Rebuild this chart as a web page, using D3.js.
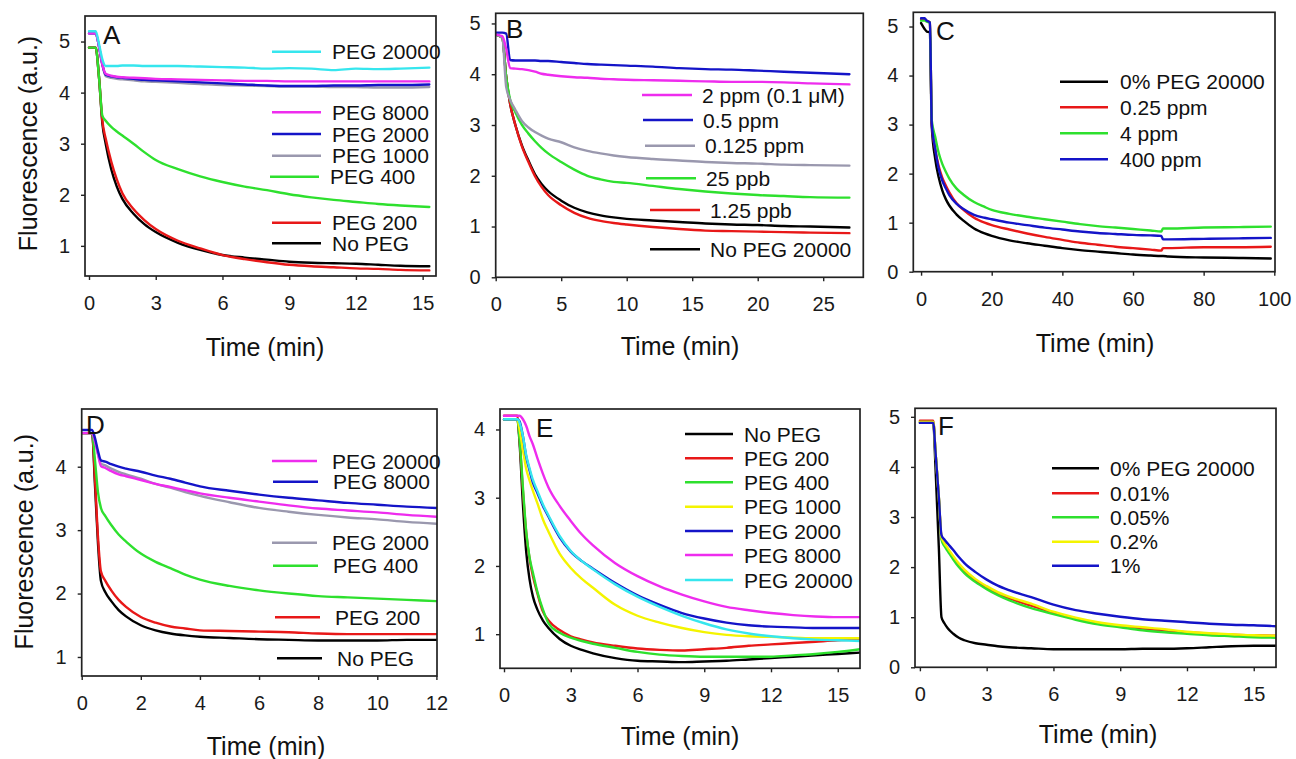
<!DOCTYPE html>
<html><head><meta charset="utf-8">
<script src="https://cdn.jsdelivr.net/npm/d3@7"></script>
<style>
body{margin:0;background:#fff}
svg{display:block}
text{font-family:"Liberation Sans",Arial,Helvetica,sans-serif}
</style>
</head><body>
<svg id="c" width="1296" height="759"></svg>
<script>
// ---------------- DATA ----------------
// Panel A (time, min)
const tA = [0, 0.3, 0.45, 0.6, 0.75, 1, 1.25, 1.5, 2, 2.5, 3, 4, 5, 6, 7, 8, 9, 10, 11, 12, 13, 14, 15.3];
const aPEG20000 = [5.2, 5.2, 4.95, 4.65, 4.52, 4.52, 4.52, 4.53, 4.53, 4.52, 4.52, 4.52, 4.51, 4.5, 4.49, 4.47, 4.48, 4.47, 4.44, 4.47, 4.46, 4.47, 4.49];
const aPEG8000  = [5.16, 5.16, 4.9, 4.55, 4.37, 4.33, 4.31, 4.3, 4.29, 4.28, 4.27, 4.26, 4.25, 4.24, 4.23, 4.23, 4.22, 4.22, 4.22, 4.22, 4.22, 4.22, 4.22];
const aPEG2000  = [5.16, 5.16, 4.9, 4.55, 4.35, 4.32, 4.3, 4.29, 4.27, 4.25, 4.24, 4.22, 4.2, 4.18, 4.16, 4.14, 4.13, 4.13, 4.14, 4.14, 4.15, 4.15, 4.16];
const aPEG1000  = [5.16, 5.16, 4.9, 4.55, 4.32, 4.29, 4.27, 4.26, 4.24, 4.22, 4.21, 4.19, 4.17, 4.15, 4.14, 4.13, 4.12, 4.12, 4.11, 4.11, 4.1, 4.1, 4.11];
const aPEG400   = [4.88, 4.88, 4.3, 3.55, 3.45, 3.33, 3.24, 3.16, 3.0, 2.83, 2.68, 2.5, 2.36, 2.25, 2.16, 2.09, 2.01, 1.95, 1.9, 1.86, 1.82, 1.79, 1.76];
const aPEG200   = [4.88, 4.88, 4.3, 3.45, 3.1, 2.65, 2.3, 2.03, 1.72, 1.5, 1.33, 1.1, 0.95, 0.82, 0.74, 0.68, 0.63, 0.6, 0.58, 0.56, 0.55, 0.53, 0.52];
const aNoPEG    = [4.88, 4.88, 4.3, 3.4, 3.0, 2.5, 2.16, 1.92, 1.63, 1.42, 1.27, 1.06, 0.92, 0.82, 0.77, 0.73, 0.69, 0.67, 0.66, 0.65, 0.63, 0.61, 0.6];

// Panel B
const tB = [0, 0.5, 0.8, 1.1, 1.5, 2, 2.5, 3, 3.5, 4, 5, 6, 7, 8, 9, 10, 12, 14, 16, 18, 20, 22, 24, 27];
const b2ppm    = [4.78, 4.75, 4.5, 4.12, 4.11, 4.1, 4.08, 4.05, 4.01, 3.99, 3.96, 3.94, 3.93, 3.91, 3.9, 3.89, 3.88, 3.87, 3.86, 3.85, 3.85, 3.84, 3.82, 3.8];
const b05ppm   = [4.82, 4.82, 4.8, 4.28, 4.27, 4.27, 4.27, 4.27, 4.26, 4.26, 4.24, 4.22, 4.2, 4.19, 4.18, 4.17, 4.15, 4.12, 4.1, 4.09, 4.07, 4.05, 4.03, 4.0];
const b0125ppm = [4.78, 4.72, 3.75, 3.5, 3.3, 3.08, 2.95, 2.86, 2.79, 2.73, 2.66, 2.56, 2.49, 2.44, 2.4, 2.37, 2.33, 2.3, 2.27, 2.25, 2.24, 2.22, 2.21, 2.2];
const b25ppb   = [4.78, 4.72, 3.95, 3.5, 3.25, 3.0, 2.83, 2.68, 2.55, 2.44, 2.27, 2.12, 2.0, 1.93, 1.88, 1.86, 1.8, 1.74, 1.69, 1.65, 1.62, 1.6, 1.58, 1.57];
const b125ppb  = [4.78, 4.72, 3.95, 3.42, 3.0, 2.58, 2.27, 1.99, 1.78, 1.62, 1.42, 1.27, 1.17, 1.11, 1.07, 1.04, 0.99, 0.95, 0.92, 0.91, 0.9, 0.89, 0.88, 0.87];
const bNoPEG   = [4.78, 4.72, 3.95, 3.42, 3.0, 2.6, 2.3, 2.03, 1.84, 1.7, 1.51, 1.37, 1.28, 1.22, 1.18, 1.15, 1.12, 1.09, 1.06, 1.04, 1.03, 1.01, 1.0, 0.98];

// Panel C
const tC = [0, 1, 1.6, 2.5, 2.75, 3.0, 4, 5, 6, 7, 8, 10, 12, 15, 18, 20, 25, 30, 35, 40, 45, 50, 55, 60, 65, 68, 68.5, 70, 80, 90, 99];
const cNoPEG  = [5.07, 4.95, 4.9, 4.88, 4.0, 3.0, 2.3, 1.92, 1.66, 1.48, 1.35, 1.17, 1.04, 0.88, 0.78, 0.73, 0.64, 0.58, 0.53, 0.48, 0.44, 0.41, 0.38, 0.35, 0.33, 0.32, 0.32, 0.31, 0.29, 0.28, 0.27];
const c025ppm = [5.15, 5.15, 5.12, 5.08, 4.2, 3.05, 2.5, 2.15, 1.92, 1.76, 1.62, 1.4, 1.26, 1.1, 1.0, 0.95, 0.86, 0.78, 0.71, 0.65, 0.59, 0.55, 0.51, 0.48, 0.45, 0.43, 0.48, 0.48, 0.5, 0.5, 0.51];
const c4ppm   = [5.12, 5.12, 5.1, 5.08, 4.2, 3.1, 2.75, 2.42, 2.2, 2.04, 1.9, 1.7, 1.57, 1.42, 1.32, 1.26, 1.18, 1.12, 1.07, 1.02, 0.97, 0.93, 0.9, 0.87, 0.84, 0.82, 0.88, 0.88, 0.9, 0.91, 0.92];
const c400ppm = [5.17, 5.17, 5.12, 5.08, 4.2, 3.05, 2.5, 2.1, 1.86, 1.7, 1.56, 1.39, 1.28, 1.16, 1.1, 1.07, 1.0, 0.95, 0.9, 0.86, 0.82, 0.79, 0.77, 0.75, 0.74, 0.73, 0.66, 0.66, 0.67, 0.68, 0.69];

// Panel D
const tD = [0, 0.35, 0.45, 0.55, 0.65, 0.8, 1, 1.25, 1.5, 2, 2.5, 3, 3.5, 4, 5, 6, 7, 8, 9, 10, 11, 12];
const dPEG20000 = [4.53, 4.53, 4.4, 4.2, 4.01, 3.98, 3.93, 3.88, 3.85, 3.79, 3.73, 3.68, 3.63, 3.58, 3.51, 3.45, 3.39, 3.34, 3.31, 3.28, 3.24, 3.21];
const dPEG8000  = [4.58, 4.58, 4.45, 4.25, 4.1, 4.08, 4.04, 4.0, 3.97, 3.92, 3.86, 3.81, 3.75, 3.69, 3.62, 3.56, 3.51, 3.47, 3.43, 3.4, 3.37, 3.35];
const dPEG2000  = [4.53, 4.53, 4.4, 4.2, 4.05, 4.02, 3.97, 3.92, 3.88, 3.81, 3.73, 3.67, 3.6, 3.54, 3.44, 3.35, 3.29, 3.24, 3.2, 3.17, 3.13, 3.1];
const dPEG400   = [4.53, 4.53, 4.1, 3.6, 3.35, 3.22, 3.08, 2.93, 2.82, 2.63, 2.5, 2.4, 2.3, 2.22, 2.12, 2.05, 2.0, 1.96, 1.94, 1.92, 1.9, 1.88];
const dPEG200   = [4.53, 4.53, 3.8, 2.9, 2.35, 2.2, 2.05, 1.9, 1.79, 1.63, 1.54, 1.48, 1.45, 1.42, 1.41, 1.4, 1.39, 1.37, 1.36, 1.36, 1.36, 1.36];
const dNoPEG    = [4.53, 4.53, 3.7, 2.8, 2.2, 2.02, 1.88, 1.74, 1.64, 1.5, 1.42, 1.37, 1.34, 1.32, 1.3, 1.28, 1.27, 1.26, 1.26, 1.26, 1.27, 1.27];

// Panel E
const tE = [0, 0.6, 0.7, 0.85, 1, 1.15, 1.3, 1.5, 1.75, 2, 2.5, 3, 3.5, 4, 5, 6, 7, 8, 9, 10, 11, 12, 13, 14, 15, 16];
const eNoPEG    = [4.15, 4.15, 3.8, 2.9, 2.2, 1.8, 1.55, 1.36, 1.2, 1.09, 0.93, 0.83, 0.77, 0.72, 0.65, 0.61, 0.6, 0.59, 0.6, 0.61, 0.63, 0.65, 0.67, 0.69, 0.71, 0.73];
const ePEG200   = [4.2, 4.2, 3.85, 3.1, 2.48, 2.1, 1.85, 1.6, 1.33, 1.2, 1.06, 0.97, 0.92, 0.88, 0.83, 0.79, 0.77, 0.76, 0.78, 0.8, 0.83, 0.85, 0.87, 0.89, 0.91, 0.92];
const ePEG400   = [4.15, 4.15, 3.85, 3.15, 2.5, 2.12, 1.9, 1.62, 1.36, 1.16, 1.02, 0.95, 0.9, 0.86, 0.8, 0.74, 0.7, 0.68, 0.67, 0.67, 0.67, 0.67, 0.69, 0.71, 0.74, 0.78];
const ePEG1000  = [4.15, 4.15, 4.0, 3.7, 3.42, 3.25, 3.1, 2.92, 2.68, 2.5, 2.18, 1.97, 1.81, 1.68, 1.43, 1.27, 1.17, 1.09, 1.03, 0.99, 0.97, 0.96, 0.95, 0.94, 0.94, 0.94];
const ePEG2000  = [4.15, 4.15, 4.12, 3.9, 3.6, 3.4, 3.22, 3.07, 2.88, 2.72, 2.42, 2.21, 2.07, 1.96, 1.75, 1.57, 1.43, 1.31, 1.23, 1.17, 1.13, 1.11, 1.1, 1.09, 1.09, 1.09];
const ePEG8000  = [4.2, 4.2, 4.2, 4.15, 4.05, 3.9, 3.78, 3.58, 3.35, 3.15, 2.88, 2.66, 2.46, 2.3, 2.04, 1.85, 1.7, 1.58, 1.48, 1.4, 1.35, 1.31, 1.28, 1.26, 1.25, 1.25];
const ePEG20000 = [4.15, 4.15, 4.1, 3.9, 3.62, 3.43, 3.26, 3.1, 2.9, 2.74, 2.44, 2.22, 2.07, 1.95, 1.73, 1.55, 1.4, 1.27, 1.16, 1.07, 1.01, 0.97, 0.94, 0.92, 0.91, 0.9];

// Panel F
const tF = [0, 0.6, 0.7, 0.85, 0.97, 1.1, 1.25, 1.5, 1.75, 2, 2.5, 3, 3.5, 4, 5, 6, 7, 8, 9, 10, 11, 12, 13, 14, 15, 16];
const fNoPEG = [4.88, 4.88, 4.0, 2.4, 1.0, 0.88, 0.78, 0.67, 0.59, 0.54, 0.48, 0.45, 0.42, 0.4, 0.38, 0.36, 0.36, 0.36, 0.36, 0.37, 0.37, 0.38, 0.4, 0.42, 0.43, 0.43];
const f001   = [4.92, 4.92, 4.3, 3.4, 2.58, 2.45, 2.35, 2.19, 2.04, 1.92, 1.73, 1.59, 1.47, 1.38, 1.23, 1.09, 0.97, 0.88, 0.82, 0.77, 0.73, 0.7, 0.67, 0.65, 0.64, 0.63];
const f005   = [4.9, 4.9, 4.3, 3.4, 2.55, 2.42, 2.32, 2.15, 2.0, 1.88, 1.7, 1.56, 1.44, 1.34, 1.18, 1.06, 0.95, 0.86, 0.8, 0.74, 0.7, 0.67, 0.64, 0.62, 0.6, 0.59];
const f02    = [4.9, 4.9, 4.3, 3.4, 2.6, 2.48, 2.38, 2.22, 2.07, 1.95, 1.76, 1.62, 1.5, 1.41, 1.27, 1.11, 0.99, 0.9, 0.84, 0.8, 0.76, 0.71, 0.68, 0.66, 0.64, 0.63];
const f1     = [4.88, 4.88, 4.3, 3.4, 2.64, 2.55, 2.47, 2.34, 2.2, 2.08, 1.9, 1.75, 1.63, 1.54, 1.4, 1.25, 1.14, 1.07, 1.01, 0.96, 0.93, 0.9, 0.87, 0.85, 0.84, 0.82];

// Tick values
const ticksXA = [0, 3, 6, 9, 12, 15], ticksYA = [1, 2, 3, 4, 5];
const ticksXB = [0, 5, 10, 15, 20, 25], ticksYB = [0, 1, 2, 3, 4, 5];
const ticksXC = [0, 20, 40, 60, 80, 100], ticksYC = [0, 1, 2, 3, 4, 5];
const ticksXD = [0, 2, 4, 6, 8, 10, 12], ticksYD = [1, 2, 3, 4];
const ticksXE = [0, 3, 6, 9, 12, 15], ticksYE = [1, 2, 3, 4];
const ticksXF = [0, 3, 6, 9, 12, 15], ticksYF = [0, 1, 2, 3, 4, 5];

// Legend labels (top to bottom)
const legA = ['PEG 20000', 'PEG 8000', 'PEG 2000', 'PEG 1000', 'PEG 400', 'PEG 200', 'No PEG'];
const legB = ['2 ppm (0.1 μM)', '0.5 ppm', '0.125 ppm', '25 ppb', '1.25 ppb', 'No PEG 20000'];
const legC = ['0% PEG 20000', '0.25 ppm', '4 ppm', '400 ppm'];
const legD = ['PEG 20000', 'PEG 8000', 'PEG 2000', 'PEG 400', 'PEG 200', 'No PEG'];
const legE = ['No PEG', 'PEG 200', 'PEG 400', 'PEG 1000', 'PEG 2000', 'PEG 8000', 'PEG 20000'];
const legF = ['0% PEG 20000', '0.01%', '0.05%', '0.2%', '1%'];

// ---------------- STYLE / LAYOUT ----------------
const COL = {black:'#000000', red:'#e81818', green:'#2ee02e', gray:'#9a98ae', blue:'#1414c8',
             magenta:'#ee2cee', cyan:'#36e6ee', yellow:'#f4f400'};

const panels = [
  {key:'A', t:tA, box:[85,16,436,276], xDom:[-0.18,15.6], yDom:[0.41,5.5], xt:ticksXA, yt:ticksYA,
   series:[[aNoPEG,'black'],[aPEG200,'red'],[aPEG400,'green'],[aPEG1000,'gray'],[aPEG2000,'blue'],[aPEG8000,'magenta'],[aPEG20000,'cyan']],
   leg:legA, legCol:['cyan','magenta','blue','gray','green','red','black'],
   legY:[51.7,112.3,134,155.7,176.7,222.7,243.3], legDx:[0,0,0,0,-2,0,0], lx1:272, lx2:321, tx:332,
   letter:[103,43.5], xTitle:[265,356], yTitle:[37,143.5]},
  {key:'B', t:tB, box:[495.7,13.3,863.3,277.3], xDom:[0,28.06], yDom:[0,5.2], xt:ticksXB, yt:ticksYB,
   series:[[bNoPEG,'black'],[b125ppb,'red'],[b25ppb,'green'],[b0125ppm,'gray'],[b05ppm,'blue'],[b2ppm,'magenta']],
   leg:legB, legCol:['magenta','blue','gray','green','red','black'],
   legY:[95,120,145.7,178.3,210,249.3], legDx:[0,1,3,4,8,8], lx1:642, lx2:692, tx:702,
   letter:[506,37.5], xTitle:[680,355]},
  {key:'C', t:tC, box:[913.3,12.3,1275,271.7], xDom:[-2.2,100.2], yDom:[0,5.29], xt:ticksXC, yt:ticksYC,
   series:[[cNoPEG,'black'],[c025ppm,'red'],[c4ppm,'green'],[c400ppm,'blue']],
   leg:legC, legCol:['black','red','green','blue'],
   legY:[81.7,107.3,133.3,159.3], legDx:[0,0,0,0], lx1:1060, lx2:1108, tx:1120,
   letter:[936,40], xTitle:[1095,351.7]},
  {key:'D', t:tD, box:[81.7,409,437,676], xDom:[0,12.02], yDom:[0.7,4.91], xt:ticksXD, yt:ticksYD,
   series:[[dNoPEG,'black'],[dPEG200,'red'],[dPEG400,'green'],[dPEG2000,'gray'],[dPEG20000,'magenta'],[dPEG8000,'blue']],
   leg:legD, legCol:['magenta','blue','gray','green','red','black'],
   legY:[461,481.7,542.7,565.7,617.3,658.3], legDx:[0,1,0,1,3,5], lx1:272, lx2:317, tx:332,
   letter:[86,433.5], xTitle:[266,755], yTitle:[33,541.7]},
  {key:'E', t:tE, box:[500,409,860,668.3], xDom:[-0.18,16.0], yDom:[0.5,4.3], xt:ticksXE, yt:ticksYE,
   series:[[eNoPEG,'black'],[ePEG200,'red'],[ePEG400,'green'],[ePEG1000,'yellow'],[ePEG2000,'blue'],[ePEG8000,'magenta'],[ePEG20000,'cyan']],
   leg:legE, legCol:['black','red','green','yellow','blue','magenta','cyan'],
   legY:[434,458.3,482.3,506.7,531,555,580], legDx:[0,0,0,0,0,0,0], lx1:685, lx2:733, tx:744,
   letter:[536,436.5], xTitle:[680,745]},
  {key:'F', t:tF, box:[915,408.3,1276,667.3], xDom:[-0.22,16.0], yDom:[0,5.17], xt:ticksXF, yt:ticksYF,
   series:[[fNoPEG,'black'],[f001,'red'],[f005,'green'],[f02,'yellow'],[f1,'blue']],
   leg:legF, legCol:['black','red','green','yellow','blue'],
   legY:[468.3,493.3,517.3,541.7,565.7], legDx:[0,0,0,0,0], lx1:1052, lx2:1099, tx:1110,
   letter:[938,435], xTitle:[1098,743]}
];

const FONT = '"Liberation Sans", Arial, Helvetica, sans-serif';
const svg = d3.select('#c');
const defs = svg.append('defs');

panels.forEach(p => {
  const [l, t, r, b] = p.box;
  const x = d3.scaleLinear().domain(p.xDom).range([l, r]);
  const y = d3.scaleLinear().domain(p.yDom).range([b, t]);
  const g = svg.append('g').attr('class', 'panel-' + p.key);

  defs.append('clipPath').attr('id', 'clip' + p.key)
    .append('rect').attr('x', l).attr('y', t).attr('width', r - l).attr('height', b - t);

  const line = d3.line()
    .x((d, i) => x(p.t[i]))
    .y(d => y(d))
    .curve(d3.curveMonotoneX);

  g.append('g').attr('clip-path', `url(#clip${p.key})`)
    .selectAll('path').data(p.series).join('path')
    .attr('d', s => line(s[0]))
    .attr('fill', 'none')
    .attr('stroke', s => COL[s[1]])
    .attr('stroke-width', 2.4)
    .attr('stroke-linejoin', 'round')
    .attr('stroke-linecap', 'round');

  // axes
  const xa = g.append('g').attr('transform', `translate(0,${b})`)
    .call(d3.axisBottom(x).tickValues(p.xt).tickSize(4).tickPadding(16).tickFormat(d3.format('d')));
  const ya = g.append('g').attr('transform', `translate(${l},0)`)
    .call(d3.axisLeft(y).tickValues(p.yt).tickSize(4).tickPadding(11).tickFormat(d3.format('d')));
  [xa, ya].forEach(a => {
    a.attr('font-family', FONT).attr('font-size', 20);
    a.select('.domain').remove();
    a.selectAll('.tick line').attr('stroke', '#222').attr('stroke-width', 1.4);
    a.selectAll('.tick text').attr('fill', '#1a1a1a');
  });

  // frame
  g.append('rect').attr('x', l).attr('y', t).attr('width', r - l).attr('height', b - t)
    .attr('fill', 'none').attr('stroke', '#222').attr('stroke-width', 1.7);

  // legend
  const lg = g.append('g');
  p.leg.forEach((name, i) => {
    const yy = p.legY[i], dx = p.legDx[i];
    lg.append('line').attr('x1', p.lx1 + dx).attr('x2', p.lx2 + dx).attr('y1', yy).attr('y2', yy)
      .attr('stroke', COL[p.legCol[i]]).attr('stroke-width', 2.6);
    lg.append('text').attr('x', p.tx + dx).attr('y', yy).attr('dy', '0.36em')
      .attr('font-size', 21).attr('fill', '#111').text(name);
  });

  // panel letter
  g.append('text').attr('x', p.letter[0]).attr('y', p.letter[1])
    .attr('font-size', 26).attr('fill', '#111').text(p.key);

  // titles
  g.append('text').attr('x', p.xTitle[0]).attr('y', p.xTitle[1]).attr('text-anchor', 'middle')
    .attr('font-size', 25).attr('fill', '#111').text('Time (min)');
  if (p.yTitle) {
    g.append('text').attr('transform', `translate(${p.yTitle[0]},${p.yTitle[1]}) rotate(-90)`)
      .attr('text-anchor', 'middle').attr('font-size', 25).attr('fill', '#111')
      .text('Fluorescence (a.u.)');
  }
});
</script>
</body></html>
